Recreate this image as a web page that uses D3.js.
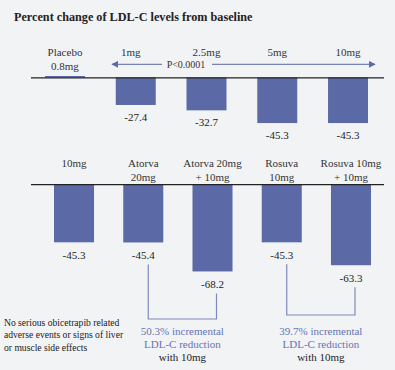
<!DOCTYPE html>
<html>
<head>
<meta charset="utf-8">
<script src="https://cdn.jsdelivr.net/npm/d3@7"></script>
<style>
  body { margin: 0; background: #f2f3f5; }
  svg { display: block; font-family: "Liberation Serif", "Times New Roman", serif; }
</style>
</head>
<body>
<svg width="395" height="370"></svg>
<script>
// top panel: obicetrapib doses
var topCats = ["Placebo", "1mg", "2.5mg", "5mg", "10mg"];
var topLabels = [["Placebo", "0.8mg"], ["1mg"], ["2.5mg"], ["5mg"], ["10mg"]];
var topValues = [0.8, -27.4, -32.7, -45.3, -45.3];
var topText = ["", "-27.4", "-32.7", "-45.3", "-45.3"];

// bottom panel: combinations
var botCats = ["10mg", "Atorva 20mg", "Atorva 20mg + 10mg", "Rosuva 10mg", "Rosuva 10mg + 10mg"];
var botLabels = [["10mg"], ["Atorva", "20mg"], ["Atorva 20mg", "+ 10mg"], ["Rosuva", "10mg"], ["Rosuva 10mg", "+ 10mg"]];
var botValues = [-45.3, -45.4, -68.2, -45.3, -63.3];

var barColor = "#5b6aa7",
    bracketColor = "#7f8abb",
    noteColor = "#6473b5";

var svg = d3.select("svg");

svg.append("text")
  .attr("x", 14).attr("y", 20.5)
  .attr("font-weight", "bold")
  .attr("font-size", 12.2)
  .attr("fill", "#222")
  .text("Percent change of LDL-C levels from baseline");

// ---- top panel
var xTop = d3.scaleBand().domain(topCats).range([29.6, 383.4]).paddingInner(0.435).paddingOuter(0.2175);
var yTop = d3.scaleLinear().domain([-50, 0]).range([77.3 + 50 * 1.01, 77.3]);

svg.selectAll(".bar-top")
  .data(topCats)
  .enter().append("rect")
  .attr("class", "bar-top")
  .attr("x", function(d) { return xTop(d); })
  .attr("width", xTop.bandwidth())
  .attr("y", function(d, i) { return topValues[i] > 0 ? yTop(topValues[i]) - 0.5 : yTop(0); })
  .attr("height", function(d, i) { return topValues[i] > 0 ? Math.max(1.5, yTop(0) - yTop(topValues[i])) : yTop(topValues[i]) - yTop(0); })
  .attr("fill", barColor);

svg.append("line")
  .attr("x1", 31).attr("x2", 384)
  .attr("y1", yTop(0) + 0.5).attr("y2", yTop(0) + 0.5)
  .attr("stroke", "#222").attr("stroke-width", 1.3);

svg.selectAll(".cat-top")
  .data(topCats)
  .enter().append("text")
  .attr("class", "cat-top")
  .attr("text-anchor", "middle")
  .attr("font-size", 11)
  .attr("fill", "#333")
  .each(function(d, i) {
    var cx = xTop(d) + xTop.bandwidth() / 2;
    if (i == 1) cx -= 5;
    d3.select(this).selectAll("tspan")
      .data(topLabels[i])
      .enter().append("tspan")
      .attr("x", cx)
      .attr("y", function(t, j) { return 56 + j * 13.5; })
      .text(function(t) { return t; });
  });

svg.selectAll(".val-top")
  .data(topCats)
  .enter().append("text")
  .attr("class", "val-top")
  .attr("text-anchor", "middle")
  .attr("font-size", 11)
  .attr("fill", "#222")
  .attr("x", function(d) { return xTop(d) + xTop.bandwidth() / 2; })
  .attr("y", function(d, i) { return yTop(topValues[i]) + 16; })
  .text(function(d, i) { return topText[i]; });

// p-value arrow
var arrowY = 64.3;
var defs = svg.append("defs");
defs.append("marker")
  .attr("id", "arr")
  .attr("viewBox", "0 0 10 10")
  .attr("refX", 9).attr("refY", 5)
  .attr("markerWidth", 7).attr("markerHeight", 7)
  .attr("markerUnits", "userSpaceOnUse")
  .attr("orient", "auto-start-reverse")
  .append("path")
  .attr("d", "M0,0L10,5L0,10Z")
  .attr("fill", barColor);

svg.append("line")
  .attr("x1", 112).attr("x2", 162)
  .attr("y1", arrowY).attr("y2", arrowY)
  .attr("stroke", barColor).attr("stroke-width", 1)
  .attr("marker-start", "url(#arr)");
svg.append("line")
  .attr("x1", 212).attr("x2", 375)
  .attr("y1", arrowY).attr("y2", arrowY)
  .attr("stroke", barColor).attr("stroke-width", 1)
  .attr("marker-end", "url(#arr)");
svg.append("text")
  .attr("x", 186).attr("y", arrowY + 4)
  .attr("text-anchor", "middle")
  .attr("font-size", 10)
  .attr("fill", "#333")
  .text("P<0.0001");

// ---- bottom panel
var xBot = d3.scaleBand().domain(botCats).range([39.4, 385.6]).paddingInner(0.422).paddingOuter(0.211);
var yBot = d3.scaleLinear().domain([-70, 0]).range([184.7 + 70 * 1.272, 184.7]);

svg.selectAll(".bar-bot")
  .data(botCats)
  .enter().append("rect")
  .attr("class", "bar-bot")
  .attr("x", function(d) { return xBot(d); })
  .attr("width", xBot.bandwidth())
  .attr("y", yBot(0))
  .attr("height", function(d, i) { return yBot(botValues[i]) - yBot(0); })
  .attr("fill", barColor);

svg.append("line")
  .attr("x1", 31).attr("x2", 384)
  .attr("y1", yBot(0)).attr("y2", yBot(0))
  .attr("stroke", "#222").attr("stroke-width", 1.3);

svg.selectAll(".cat-bot")
  .data(botCats)
  .enter().append("text")
  .attr("class", "cat-bot")
  .attr("text-anchor", "middle")
  .attr("font-size", 11)
  .attr("fill", "#333")
  .each(function(d, i) {
    var cx = xBot(d) + xBot.bandwidth() / 2;
    d3.select(this).selectAll("tspan")
      .data(botLabels[i])
      .enter().append("tspan")
      .attr("x", cx)
      .attr("y", function(t, j) { return 167 + j * 13.5; })
      .text(function(t) { return t; });
  });

svg.selectAll(".val-bot")
  .data(botCats)
  .enter().append("text")
  .attr("class", "val-bot")
  .attr("text-anchor", "middle")
  .attr("font-size", 11)
  .attr("fill", "#222")
  .attr("x", function(d) { return xBot(d) + xBot.bandwidth() / 2; })
  .attr("y", function(d, i) { return yBot(botValues[i]) + 17; })
  .text(function(d, i) { return botValues[i].toFixed(1); });

// brackets joining mono and combo bars
var brackets = [
  { from: 1, to: 2, bottom: 319, note: "50.3% incremental" },
  { from: 3, to: 4, bottom: 315, note: "39.7% incremental" }
];

brackets.forEach(function(b) {
  var x1 = xBot(botCats[b.from]) + xBot.bandwidth() / 2 + 5,
      x2 = xBot(botCats[b.to]) + xBot.bandwidth() / 2 + 4,
      y1 = yBot(botValues[b.from]) + 22,
      y2 = yBot(botValues[b.to]) + 22;
  svg.append("path")
    .attr("d", "M" + x1 + "," + y1 + "V" + b.bottom + "H" + x2 + "V" + y2)
    .attr("fill", "none")
    .attr("stroke", bracketColor)
    .attr("stroke-width", 1.2);

  var cx = (x1 + x2) / 2;
  var note = svg.append("text")
    .attr("text-anchor", "middle")
    .attr("font-size", 11);
  note.append("tspan").attr("x", cx).attr("y", 335).attr("fill", noteColor).text(b.note);
  note.append("tspan").attr("x", cx).attr("y", 348).attr("fill", noteColor).text("LDL-C reduction");
  note.append("tspan").attr("x", cx).attr("y", 361).attr("fill", "#222").text("with 10mg");
});

var sideNote = ["No serious obicetrapib related", "adverse events or signs of liver", "or muscle side effects"];
svg.append("text")
  .attr("font-size", 9.6)
  .attr("fill", "#222")
  .selectAll("tspan")
  .data(sideNote)
  .enter().append("tspan")
  .attr("x", 4)
  .attr("y", function(d, i) { return 326 + i * 12.3; })
  .text(function(d) { return d; });
</script>
</body>
</html>
